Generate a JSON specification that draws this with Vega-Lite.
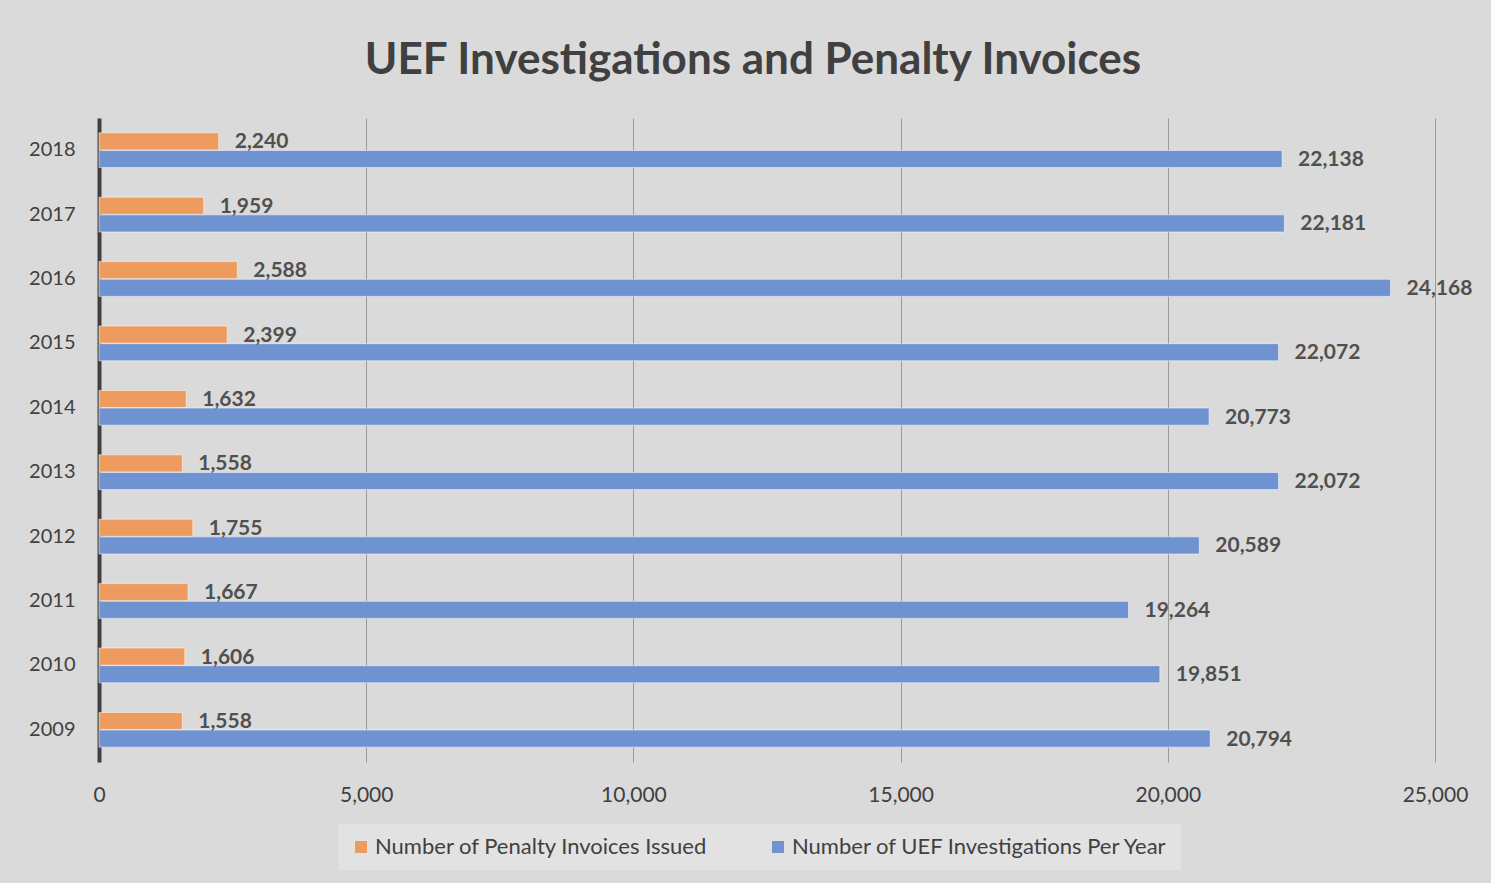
{
  "$schema": "https://vega.github.io/schema/vega-lite/v6.json",
  "width": 1336,
  "height": 644,
  "autosize": {"type": "none"},
  "padding": {"left": 99, "top": 118, "right": 56, "bottom": 121},
  "background": "#dadada",
  "config": {
    "view": {"stroke": null},
    "font": "Lato"
  },
  "title": {
    "text": "UEF Investigations and Penalty Invoices",
    "fontSize": 44,
    "fontWeight": "bold",
    "font": "Lato",
    "color": "#404040",
    "anchor": "middle",
    "dx": -14,
    "offset": 35
  },
  "data": {
    "values": [
      {"year": "2018", "series": "Number of Penalty Invoices Issued", "value": 2240},
      {"year": "2018", "series": "Number of UEF Investigations Per Year", "value": 22138},
      {"year": "2017", "series": "Number of Penalty Invoices Issued", "value": 1959},
      {"year": "2017", "series": "Number of UEF Investigations Per Year", "value": 22181},
      {"year": "2016", "series": "Number of Penalty Invoices Issued", "value": 2588},
      {"year": "2016", "series": "Number of UEF Investigations Per Year", "value": 24168},
      {"year": "2015", "series": "Number of Penalty Invoices Issued", "value": 2399},
      {"year": "2015", "series": "Number of UEF Investigations Per Year", "value": 22072},
      {"year": "2014", "series": "Number of Penalty Invoices Issued", "value": 1632},
      {"year": "2014", "series": "Number of UEF Investigations Per Year", "value": 20773},
      {"year": "2013", "series": "Number of Penalty Invoices Issued", "value": 1558},
      {"year": "2013", "series": "Number of UEF Investigations Per Year", "value": 22072},
      {"year": "2012", "series": "Number of Penalty Invoices Issued", "value": 1755},
      {"year": "2012", "series": "Number of UEF Investigations Per Year", "value": 20589},
      {"year": "2011", "series": "Number of Penalty Invoices Issued", "value": 1667},
      {"year": "2011", "series": "Number of UEF Investigations Per Year", "value": 19264},
      {"year": "2010", "series": "Number of Penalty Invoices Issued", "value": 1606},
      {"year": "2010", "series": "Number of UEF Investigations Per Year", "value": 19851},
      {"year": "2009", "series": "Number of Penalty Invoices Issued", "value": 1558},
      {"year": "2009", "series": "Number of UEF Investigations Per Year", "value": 20794}
    ]
  },
  "encoding": {
    "y": {
      "field": "year",
      "type": "ordinal",
      "sort": "descending",
      "scale": {"paddingInner": 0.46, "paddingOuter": 0.23},
      "axis": {
        "title": null,
        "ticks": false,
        "domainColor": "#404040",
        "domainWidth": 4,
        "labelFontSize": 20,
        "labelColor": "#404040",
        "labelFont": "Lato",
        "labelPadding": 24
      }
    },
    "yOffset": {
      "field": "series",
      "type": "nominal",
      "sort": ["Number of Penalty Invoices Issued", "Number of UEF Investigations Per Year"],
      "scale": {"paddingInner": 0.03}
    },
    "x": {
      "field": "value",
      "type": "quantitative",
      "scale": {"domain": [0, 25000], "nice": false},
      "axis": {
        "title": null,
        "values": [0, 5000, 10000, 15000, 20000, 25000],
        "labelExpr": "format(datum.value, ',')",
        "labelFlush": false,
        "domain": false,
        "ticks": false,
        "grid": true,
        "gridColor": "#9a9a9a",
        "gridWidth": 1,
        "labelFontSize": 21,
        "labelColor": "#404040",
        "labelFont": "Lato",
        "labelPadding": 22
      }
    }
  },
  "layer": [
    {
      "mark": {"type": "bar", "stroke": "#ffffff", "strokeOpacity": 0.5, "strokeWidth": 1},
      "encoding": {
        "color": {
          "field": "series",
          "type": "nominal",
          "sort": ["Number of Penalty Invoices Issued", "Number of UEF Investigations Per Year"],
          "scale": {
            "domain": ["Number of Penalty Invoices Issued", "Number of UEF Investigations Per Year"],
            "range": ["#ee9b60", "#6f93d1"]
          },
          "legend": {
            "title": null,
            "orient": "none",
            "legendX": 239,
            "legendY": 706,
            "direction": "horizontal",
            "fillColor": "#e2e2e2",
            "padding": 12,
            "columnPadding": 59,
            "symbolType": "square",
            "symbolSize": 144,
            "symbolStrokeWidth": 0,
            "labelOffset": 3,
            "labelFontSize": 22,
            "labelColor": "#404040",
            "labelFont": "Lato",
            "labelLimit": 500
          }
        }
      }
    },
    {
      "mark": {
        "type": "text",
        "align": "left",
        "baseline": "middle",
        "dx": 16,
        "dy": 1,
        "fontSize": 21,
        "fontWeight": "bold",
        "font": "Lato",
        "color": "#505050"
      },
      "encoding": {
        "text": {"field": "value", "type": "quantitative", "format": ","}
      }
    }
  ]
}
